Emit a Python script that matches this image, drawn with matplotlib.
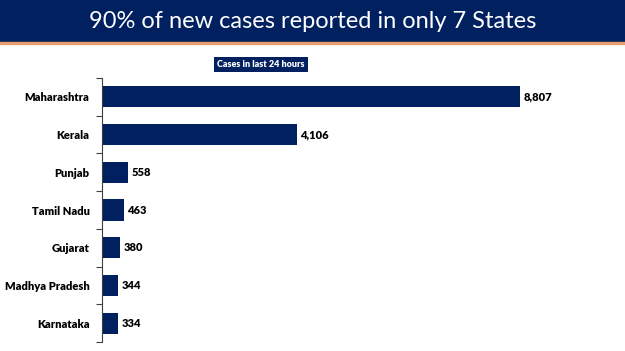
import numpy as np
import matplotlib.pyplot as plt
from matplotlib.patches import Rectangle

states = ["Maharashtra", "Kerala", "Punjab", "Tamil Nadu", "Gujarat",
          "Madhya Pradesh", "Karnataka"]
cases = [8807, 4106, 558, 463, 380, 344, 334]
title = "90% of new cases reported in only 7 States"
subtitle = "Cases in last 24 hours"

navy = "#002060"
W, H = 625, 351

plt.rcParams["font.family"] = ["Lato", "DejaVu Sans"]
fig = plt.figure(figsize=(W / 100, H / 100), dpi=100)

# title banner
fig.patches.append(Rectangle((0, 1 - 42 / H), 1, 42 / H, transform=fig.transFigure,
                             color=navy, zorder=0))
fig.patches.append(Rectangle((0, 1 - 43.5 / H), 1, 1.5 / H, transform=fig.transFigure,
                             color="#e8a070", zorder=0))
fig.text(0.5, 1 - 21 / H, title, color="white", fontsize=17,
         ha="center", va="center")

# subtitle box
fig.text(261 / W, 1 - 64.5 / H, subtitle, color="white", fontsize=6.5,
         fontweight="heavy", ha="center", va="center",
         bbox=dict(boxstyle="square,pad=0.35", fc=navy, ec="none"))

ax = fig.add_axes([102 / W, 9 / H, (615 - 102) / W, (342 - 78) / H])
y = np.arange(len(states))
ax.barh(y, cases, height=0.56, color=navy)
ax.set_ylim(len(states) - 0.5, -0.5)
ax.set_xlim(0, 10810)

for yi, v in zip(y, cases):
    ax.text(v + 70, yi, f"{v:,}", va="center", ha="left", fontsize=8,
            fontweight="heavy", color="black")

ax.set_yticks(y)
ax.set_yticklabels(states, fontsize=8, fontweight="heavy")
ax.tick_params(axis="y", which="major", length=0, pad=9)
ax.set_yticks(np.arange(-0.5, len(states)), minor=True)
ax.tick_params(axis="y", which="minor", length=4, width=0.8, color="#404040")
ax.set_xticks([])
for s in ["top", "right", "bottom"]:
    ax.spines[s].set_visible(False)
ax.spines["left"].set_color("#404040")
ax.spines["left"].set_linewidth(0.8)

fig.savefig("out.png", dpi=100)
